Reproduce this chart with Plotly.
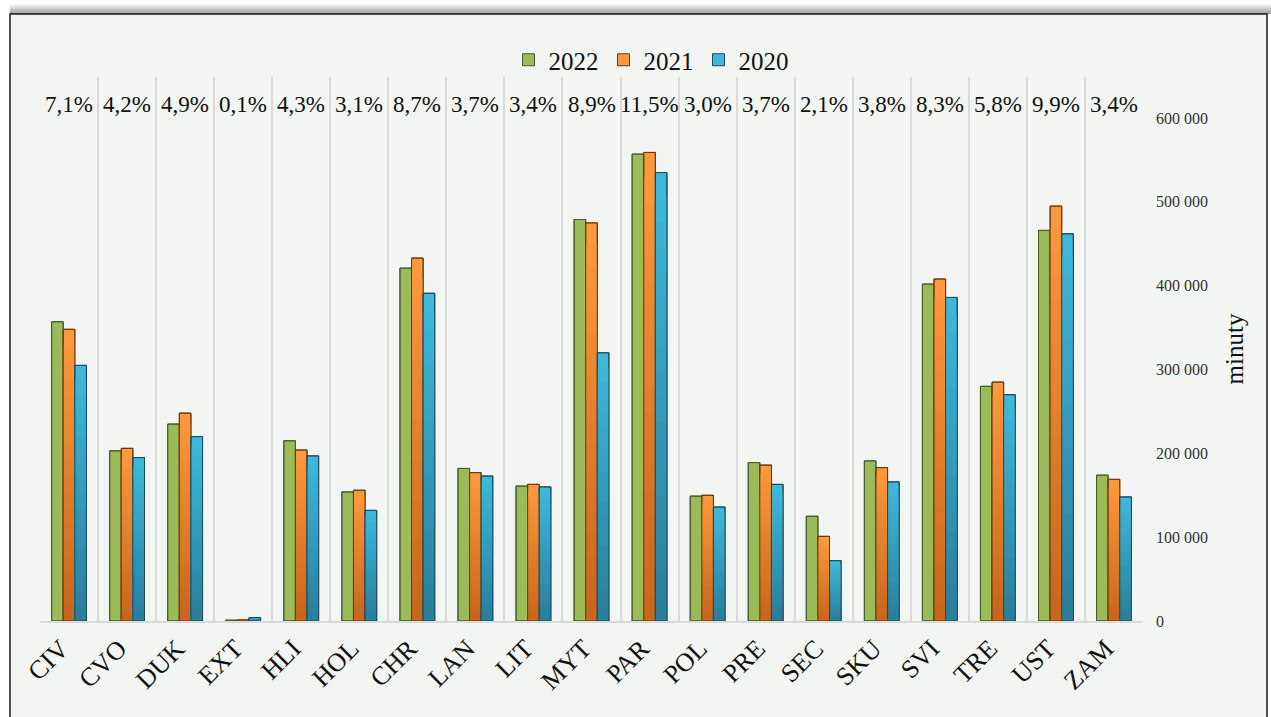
import plotly.graph_objects as go

# Minutes per unit, three years
categories = ["CIV", "CVO", "DUK", "EXT", "HLI", "HOL", "CHR", "LAN", "LIT", "MYT",
              "PAR", "POL", "PRE", "SEC", "SKU", "SVI", "TRE", "UST", "ZAM"]
v2022 = [357000, 203000, 235000, 1000, 215000, 154000, 421000, 182000, 161000, 479000,
         557000, 149000, 189000, 125000, 191000, 402000, 280000, 466000, 174000]
v2021 = [348000, 206000, 248000, 1500, 204000, 156000, 433000, 177000, 163000, 475000,
         559000, 150000, 186000, 101000, 183000, 408000, 285000, 495000, 169000]
v2020 = [305000, 195000, 220000, 4000, 197000, 132000, 391000, 173000, 160000, 320000,
         535000, 136000, 163000, 72000, 166000, 386000, 270000, 462000, 148000]
shares = ["7,1%", "4,2%", "4,9%", "0,1%", "4,3%", "3,1%", "8,7%", "3,7%", "3,4%", "8,9%",
          "11,5%", "3,0%", "3,7%", "2,1%", "3,8%", "8,3%", "5,8%", "9,9%", "3,4%"]
tick_vals = [0, 100000, 200000, 300000, 400000, 500000, 600000]
tick_text = ["0", "100 000", "200 000", "300 000", "400 000", "500 000", "600 000"]

W, H = 1271, 717
ML, MR, MT, MB = 40, 128, 77, 96
PW, PH = W - ML - MR, H - MT - MB
SERIF = "Liberation Serif"
BG = "#f2f5f2"


def px_x(px):
    return (px - ML) / PW


def px_y(py):
    return (H - MB - py) / PH


def hex_rgb(h):
    h = h.lstrip("#")
    return tuple(int(h[i:i + 2], 16) for i in (0, 2, 4))


def mix(c1, c2, t):
    a, b = hex_rgb(c1), hex_rgb(c2)
    return "rgb(%d,%d,%d)" % tuple(round(a[i] + (b[i] - a[i]) * t) for i in range(3))


fig = go.Figure()


def add_series(name, values, top, bottom, outline, bands):
    # solid bar carrying the legend entry
    fig.add_bar(x=categories, y=values, name=name, offsetgroup=name,
                marker=dict(color=top, line=dict(color=outline, width=1)))
    # vertical shading: light at the top, darker toward the base
    for k in range(1, bands):
        frac = 1 - k / bands
        fig.add_bar(x=categories, y=[v * frac for v in values], offsetgroup=name,
                    showlegend=False, hoverinfo="skip",
                    marker=dict(color=mix(top, bottom, k / (bands - 1)), line=dict(width=0)))
    # outline drawn over the shading
    fig.add_bar(x=categories, y=values, offsetgroup=name, showlegend=False, hoverinfo="skip",
                marker=dict(color="rgba(0,0,0,0)", line=dict(color=outline, width=1)))


add_series("2022", v2022, "#9bbb59", "#9bbb59", "#4a5a2a", 1)
add_series("2021", v2021, "#fd983c", "#c9661e", "#6b3a10", 18)
add_series("2020", v2020, "#3cb8dc", "#2a7f9c", "#1e4b5a", 18)

# share labels above each column
for cat, s in zip(categories, shares):
    fig.add_annotation(x=cat, xref="x", y=px_y(104), yref="paper", text=s, showarrow=False,
                       font=dict(family=SERIF, size=23, color="#111111"),
                       xanchor="center", yanchor="middle")

shapes = []
# top drop shadow
for i in range(10):
    y0 = 4 + i
    shapes.append(dict(type="rect", xref="paper", yref="paper",
                       x0=px_x(10), x1=px_x(W + 5), y0=px_y(y0 + 1), y1=px_y(y0),
                       line=dict(width=0), fillcolor="rgba(90,90,90,%.3f)" % (0.05 + 0.06 * i),
                       layer="below"))
# framed panel
shapes.append(dict(type="rect", xref="paper", yref="paper",
                   x0=px_x(10), x1=px_x(1267), y0=px_y(H + 20), y1=px_y(14),
                   line=dict(color="#1a1a1a", width=1.5), fillcolor=BG, layer="below"))

fig.update_layout(
    width=W, height=H,
    margin=dict(l=ML, r=MR, t=MT, b=MB, autoexpand=False),
    paper_bgcolor="white", plot_bgcolor=BG,
    barmode="group", bargap=0.4, bargroupgap=0,
    shapes=shapes,
    font=dict(family=SERIF, color="#111111"),
    legend=dict(orientation="h", x=px_x(651), y=px_y(60), xanchor="center", yanchor="middle",
                font=dict(family=SERIF, size=25, color="#111111"),
                bgcolor="rgba(0,0,0,0)", itemwidth=30, traceorder="normal"),
    showlegend=True,
)
fig.update_xaxes(
    type="category", tickson="boundaries", showgrid=True, gridcolor="#d9d9d9", gridwidth=2,
    showline=True, linecolor="#d9d9d9", linewidth=2, ticks="", tickangle=-45,
    ticklabelshift=-8,
    tickfont=dict(family=SERIF, size=26, color="#111111"), range=[-0.5, len(categories) - 0.5],
)
fig.update_yaxes(
    side="right", range=[0, 649000], showgrid=False, zeroline=False, showline=False,
    tickvals=tick_vals, ticktext=tick_text, ticklabelstandoff=12,
    tickfont=dict(family=SERIF, size=16, color="#333333"),
    title=dict(text="minuty", font=dict(family=SERIF, size=25, color="#111111"), standoff=18),
)

fig.write_html("out.html")
